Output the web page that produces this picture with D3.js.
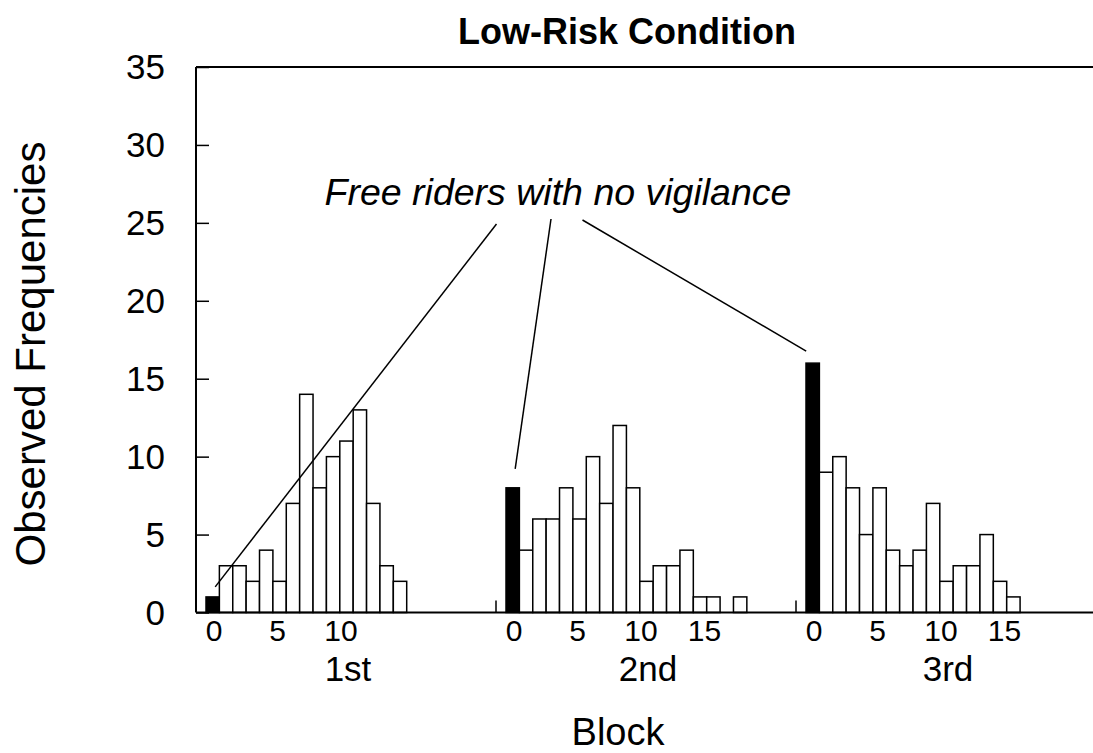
<!DOCTYPE html>
<html>
<head>
<meta charset="utf-8">
<script src="https://cdn.jsdelivr.net/npm/d3@7"></script>
<style>
  html, body { margin: 0; padding: 0; background: #fff; }
  svg { display: block; }
  text { font-family: "Liberation Sans", Arial, Helvetica, sans-serif; fill: #000; }
</style>
</head>
<body>
<script>
// ---- data ----
const blocks = ["1st", "2nd", "3rd"];
const block1 = [1, 3, 3, 2, 4, 2, 7, 14, 8, 10, 11, 13, 7, 3, 2];
const block2 = [8, 4, 6, 6, 8, 6, 10, 7, 12, 8, 2, 3, 3, 4, 1, 1, 0, 1];
const block3 = [16, 9, 10, 8, 5, 8, 4, 3, 4, 7, 2, 3, 3, 5, 2, 1];
const blockTicks = [[0, 5, 10], [0, 5, 10, 15], [0, 5, 10, 15]];
const yTicks = [0, 5, 10, 15, 20, 25, 30, 35];
const title = "Low-Risk Condition";
const yTitle = "Observed Frequencies";
const xTitle = "Block";
const annotation = "Free riders with no vigilance";

const series = [block1, block2, block3];

const W = 1093, H = 753;
const svg = d3.select("body").append("svg").attr("width", W).attr("height", H);

const mLeft = 196, mRight = 1096, mTop = 67, mBottom = 612.5;

const y = d3.scaleLinear().domain([0, 35]).range([mBottom, mTop]);
const xBlock = d3.scaleBand().domain(blocks).range([mLeft, mRight]).padding(0);
const binW = 13.38;
const xBin = d3.scaleLinear().domain([0, 20]).range([10, 10 + 20 * binW]);
const xLab = d3.scaleLinear().domain([0, 15]).range([18, 18 + 15 * 12.7]);

// bars
blocks.forEach((b, k) => {
  const g = svg.append("g").attr("transform", `translate(${xBlock(b)},0)`);
  g.selectAll("rect")
    .data(series[k].map((v, i) => ({ v, i })).filter(d => d.v > 0))
    .join("rect")
    .attr("x", d => xBin(d.i))
    .attr("width", binW)
    .attr("y", d => y(d.v))
    .attr("height", d => y(0) - y(d.v))
    .attr("fill", d => d.i === 0 ? "#000" : "#fff")
    .attr("stroke", "#000")
    .attr("stroke-width", 1.5);

  if (k > 0) {
    g.append("line").attr("x1", 0).attr("x2", 0)
      .attr("y1", y(0)).attr("y2", y(0) - 12)
      .attr("stroke", "#000").attr("stroke-width", 1.5);
  }
  g.selectAll("text.bt")
    .data(blockTicks[k])
    .join("text")
    .attr("class", "bt")
    .attr("x", d => xLab(d))
    .attr("y", 641)
    .attr("text-anchor", "middle")
    .attr("font-size", 30)
    .text(d => d);
  g.append("text")
    .attr("x", xBlock.bandwidth() / 2 + 2)
    .attr("y", 681)
    .attr("text-anchor", "middle")
    .attr("font-size", 35)
    .text(b);
});

// axes frame
svg.append("line").attr("x1", mLeft).attr("x2", W).attr("y1", y(0)).attr("y2", y(0))
  .attr("stroke", "#000").attr("stroke-width", 2);
svg.append("line").attr("x1", mLeft).attr("x2", W).attr("y1", y(35)).attr("y2", y(35))
  .attr("stroke", "#000").attr("stroke-width", 2);

const yAxis = d3.axisRight(y).tickValues(yTicks).tickSize(13).tickFormat("");
const ya = svg.append("g").attr("transform", `translate(${mLeft},0)`).call(yAxis);
ya.select(".domain").attr("stroke", "#000").attr("stroke-width", 2).attr("d", `M0,${y(35)}V${y(0)}`);
ya.selectAll(".tick line").attr("stroke", "#000").attr("stroke-width", 1.5);

svg.selectAll("text.yl").data(yTicks).join("text")
  .attr("class", "yl")
  .attr("x", 165).attr("y", d => y(d)).attr("dy", "0.357em")
  .attr("text-anchor", "end").attr("font-size", 35)
  .text(d => d);

// titles
svg.append("text").attr("x", 627).attr("y", 44).attr("text-anchor", "middle")
  .attr("font-size", 36).attr("font-weight", "bold").text(title);
svg.append("text").attr("transform", "translate(45,354) rotate(-90)")
  .attr("text-anchor", "middle").attr("font-size", 42).text(yTitle);
svg.append("text").attr("x", 618).attr("y", 745).attr("text-anchor", "middle")
  .attr("font-size", 38).text(xTitle);

// annotation
svg.append("text").attr("x", 558).attr("y", 205).attr("text-anchor", "middle")
  .attr("font-size", 37.5).attr("font-style", "italic").text(annotation);

const leaderTops = [[496.5, 224], [551, 219], [582.5, 220]];
const leaderDx = [2.5, 2.5, -6.5];
const leaderDy = [10, 19, 12];
blocks.forEach((b, k) => {
  const bx = xBlock(b) + xBin(0) + binW / 2 + leaderDx[k];
  const by = y(series[k][0]) - leaderDy[k];
  svg.append("line")
    .attr("x1", leaderTops[k][0]).attr("y1", leaderTops[k][1])
    .attr("x2", bx).attr("y2", by)
    .attr("stroke", "#000").attr("stroke-width", 1.5);
});
</script>
</body>
</html>
